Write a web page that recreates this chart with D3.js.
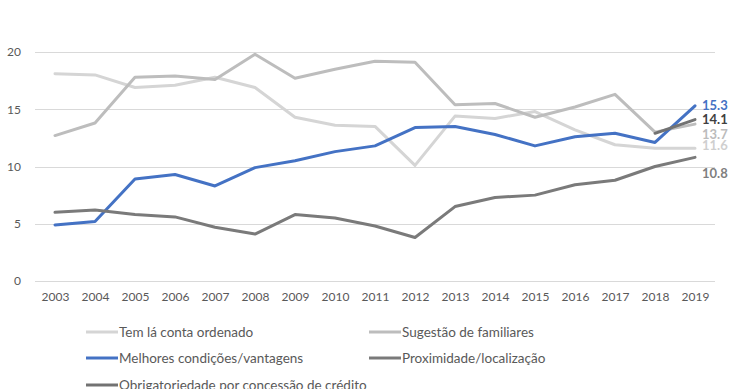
<!DOCTYPE html>
<html>
<head>
<meta charset="utf-8">
<script src="https://cdn.jsdelivr.net/npm/d3@7"></script>
<style>
  body { margin: 0; background: #fff; }
  svg { display: block; font-family: Lato, "Open Sans", sans-serif; }
</style>
</head>
<body>
<svg width="740" height="389"></svg>
<script>
let width = 740;
let height = 389;

let years = [2003, 2004, 2005, 2006, 2007, 2008, 2009, 2010, 2011, 2012, 2013, 2014, 2015, 2016, 2017, 2018, 2019];
let yTicks = [0, 5, 10, 15, 20];

let seriesNames = [
  'Tem lá conta ordenado',
  'Sugestão de familiares',
  'Melhores condições/vantagens',
  'Proximidade/localização',
  'Obrigatoriedade por concessão de crédito'
];

let temConta       = [18.1, 18.0, 16.9, 17.1, 17.8, 16.9, 14.3, 13.6, 13.5, 10.1, 14.4, 14.2, 14.8, 13.2, 11.9, 11.6, 11.6];
let sugestao       = [12.7, 13.8, 17.8, 17.9, 17.6, 19.8, 17.7, 18.5, 19.2, 19.1, 15.4, 15.5, 14.3, 15.2, 16.3, 13.0, 13.7];
let melhores       = [4.9, 5.2, 8.9, 9.3, 8.3, 9.9, 10.5, 11.3, 11.8, 13.4, 13.5, 12.8, 11.8, 12.6, 12.9, 12.1, 15.3];
let proximidade    = [6.0, 6.2, 5.8, 5.6, 4.7, 4.1, 5.8, 5.5, 4.8, 3.8, 6.5, 7.3, 7.5, 8.4, 8.8, 10.0, 10.8];
let obrigatoriedade = [null, null, null, null, null, null, null, null, null, null, null, null, null, null, null, 12.9, 14.1];

let colors = ['#d5d5d5', '#bdbdbd', '#4472c4', '#7a7a7a', '#727272'];
let labelColors = ['#cfcfcf', '#bcbcbc', '#4472c4', '#7f7f7f', '#404040'];
// nudges for the end labels so they don't collide
let labelDy = [-3, 10, 0, 16, 0];

let allSeries = [temConta, sugestao, melhores, proximidade, obrigatoriedade];

let svg = d3.select('svg')
  .attr('width', width)
  .attr('height', height);

let xScale = d3.scalePoint()
  .domain(years)
  .range([35, 715])
  .padding(0.5);

let yScale = d3.scaleLinear()
  .domain([0, 20])
  .range([281, 52]);

// gridlines
svg.append('g')
  .selectAll('line')
  .data(yTicks)
  .enter()
  .append('line')
    .attr('x1', 35)
    .attr('x2', 715)
    .attr('y1', d => Math.round(yScale(d)) + 0.5)
    .attr('y2', d => Math.round(yScale(d)) + 0.5)
    .attr('stroke', '#d9d9d9')
    .attr('stroke-width', 1);

// y axis labels
let yAxis = svg.append('g')
  .attr('transform', 'translate(21, 0)')
  .call(d3.axisLeft(yScale).tickValues(yTicks).tickSize(0).tickPadding(0));
yAxis.select('.domain').remove();
yAxis.selectAll('text')
  .attr('fill', '#595959')
  .style('font-size', '12px')
  .style('font-family', 'Lato, sans-serif');

// x axis labels
let xAxis = svg.append('g')
  .attr('transform', 'translate(0, 292)')
  .call(d3.axisBottom(xScale).tickSize(0).tickPadding(0));
xAxis.select('.domain').remove();
xAxis.selectAll('text')
  .attr('fill', '#595959')
  .style('font-size', '12px')
  .style('font-family', 'Lato, sans-serif');

let line = d3.line()
  .defined(d => d != null)
  .x((d, i) => xScale(years[i]))
  .y(d => yScale(d));

svg.append('g')
  .selectAll('path')
  .data(allSeries)
  .enter()
  .append('path')
    .attr('d', d => line(d))
    .attr('fill', 'none')
    .attr('stroke', (d, i) => colors[i])
    .attr('stroke-width', 3)
    .attr('stroke-linejoin', 'round')
    .attr('stroke-linecap', 'round');

// end value labels
svg.append('g')
  .selectAll('text')
  .data(allSeries)
  .enter()
  .append('text')
    .attr('x', xScale(2019) + 7)
    .attr('y', (d, i) => yScale(d[d.length - 1]) + labelDy[i])
    .attr('dy', '0.35em')
    .attr('fill', (d, i) => labelColors[i])
    .style('font-size', '13px')
    .style('font-weight', 'bold')
    .text(d => d[d.length - 1].toFixed(1));

// legend
let legendPos = [[86, 332], [369, 332], [86, 358], [369, 358], [86, 385]];

let legend = svg.append('g')
  .selectAll('g')
  .data(seriesNames)
  .enter()
  .append('g')
    .attr('transform', (d, i) => `translate(${legendPos[i][0]}, ${legendPos[i][1]})`);

legend.append('line')
  .attr('x1', 0)
  .attr('x2', 32)
  .attr('stroke', (d, i) => colors[i])
  .attr('stroke-width', 3);

legend.append('text')
  .attr('x', 33)
  .attr('dy', '0.35em')
  .attr('fill', '#595959')
  .style('font-size', '13.5px')
  .text(d => d);
</script>
</body>
</html>
